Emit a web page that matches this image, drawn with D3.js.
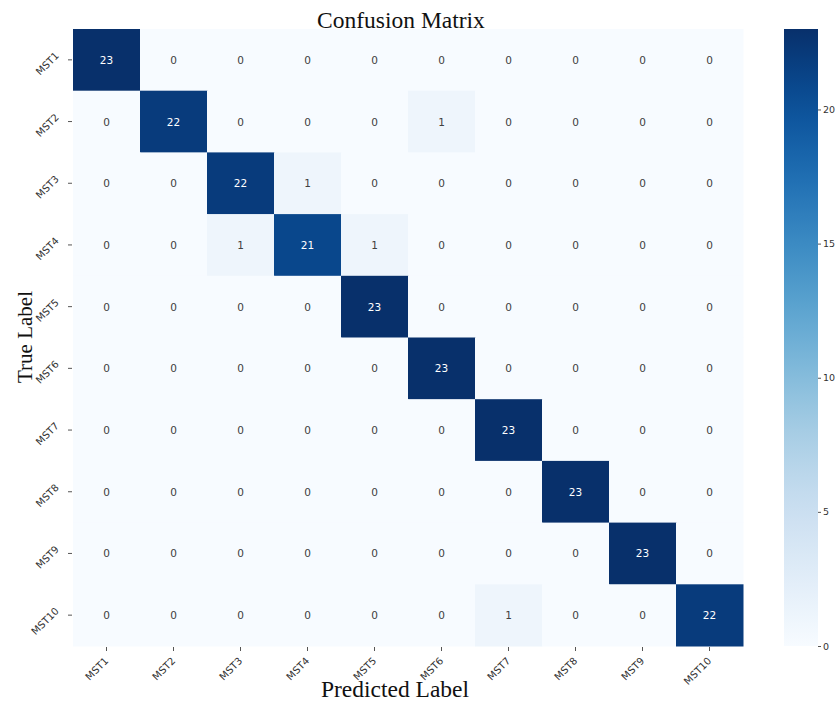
<!DOCTYPE html>
<html><head><meta charset="utf-8">
<script src="https://cdn.jsdelivr.net/npm/d3@7"></script>
<style>body{margin:0;background:#fff}</style>
</head><body>
<svg id="chart" width="837" height="702"></svg>
<script>
const trueLabels = ["MST1","MST2","MST3","MST4","MST5","MST6","MST7","MST8","MST9","MST10"];
const predLabels = ["MST1","MST2","MST3","MST4","MST5","MST6","MST7","MST8","MST9","MST10"];
const row1 = [23,0,0,0,0,0,0,0,0,0];
const row2 = [0,22,0,0,0,1,0,0,0,0];
const row3 = [0,0,22,1,0,0,0,0,0,0];
const row4 = [0,0,1,21,1,0,0,0,0,0];
const row5 = [0,0,0,0,23,0,0,0,0,0];
const row6 = [0,0,0,0,0,23,0,0,0,0];
const row7 = [0,0,0,0,0,0,23,0,0,0];
const row8 = [0,0,0,0,0,0,0,23,0,0];
const row9 = [0,0,0,0,0,0,0,0,23,0];
const row10 = [0,0,0,0,0,0,1,0,0,22];
const colorbarTicks = [0,5,10,15,20];
const vmin = 0, vmax = 23;

const matrix = [row1,row2,row3,row4,row5,row6,row7,row8,row9,row10];
const cells = [];
matrix.forEach((r,i)=>r.forEach((v,j)=>cells.push({t:trueLabels[i],p:predLabels[j],v})));

const svg = d3.select("#chart");
const L = 73, R = 743, T = 29, B = 646;
const x = d3.scaleBand().domain(predLabels).range([L,R]);
const y = d3.scaleBand().domain(trueLabels).range([T,B]);
const color = d3.scaleSequential(d3.interpolateBlues).domain([vmin,vmax]);

svg.append("g").selectAll("rect").data(cells).join("rect")
  .attr("x",d=>x(d.p)).attr("y",d=>y(d.t))
  .attr("width",x.bandwidth()+0.5).attr("height",y.bandwidth()+0.5)
  .attr("fill",d=>color(d.v));

svg.append("g").selectAll("text").data(cells).join("text")
  .attr("x",d=>x(d.p)+x.bandwidth()/2).attr("y",d=>y(d.t)+y.bandwidth()/2)
  .attr("text-anchor","middle").attr("dominant-baseline","central")
  .attr("font-family","DejaVu Sans").attr("font-size",10.5)
  .attr("fill",d=>d.v>11.5?"#ffffff":"#404040")
  .text(d=>d.v);

// x axis
const xAxis = svg.append("g").attr("transform",`translate(0,${B})`)
  .call(d3.axisBottom(x).tickSize(4).tickSizeOuter(0).tickPadding(3));
xAxis.select(".domain").remove();
xAxis.selectAll("line").attr("stroke","#555").attr("transform","translate(0,1)");
xAxis.selectAll("text").attr("font-family","DejaVu Sans").attr("font-size",10).attr("fill","#333")
  .attr("text-anchor","end").attr("x",0).attr("y",0).attr("dy","0.35em")
  .attr("transform","translate(0,13) rotate(-45)");

// y axis
const yAxis = svg.append("g").attr("transform",`translate(${L},0)`)
  .call(d3.axisLeft(y).tickSize(4).tickSizeOuter(0).tickPadding(7));
yAxis.select(".domain").remove();
yAxis.selectAll("line").attr("stroke","#555").attr("transform","translate(-1,0)");
yAxis.selectAll("text").attr("font-family","DejaVu Sans").attr("font-size",10).attr("fill","#333")
  .attr("text-anchor","end").attr("x",0).attr("y",0).attr("dy","0.35em")
  .attr("transform","translate(-16,-6) rotate(-45)");

// titles
svg.append("text").attr("x",401).attr("y",28).attr("text-anchor","middle")
  .attr("font-family","Liberation Serif").attr("font-size",23.5).attr("fill","#111").text("Confusion Matrix");
svg.append("text").attr("x",395).attr("y",697).attr("text-anchor","middle")
  .attr("font-family","Liberation Serif").attr("font-size",23.5).attr("fill","#111").text("Predicted Label");
svg.append("text").attr("transform",`translate(32,337) rotate(-90)`).attr("text-anchor","middle")
  .attr("font-family","Liberation Serif").attr("font-size",21).attr("fill","#111").text("True Label");

// colorbar
const cbX = 784, cbW = 34;
const cy = d3.scaleLinear().domain([vmin,vmax]).range([B,T]);
const defs = svg.append("defs");
const grad = defs.append("linearGradient").attr("id","cbg").attr("x1",0).attr("y1",1).attr("x2",0).attr("y2",0);
d3.range(0,1.0001,0.05).forEach(s=>grad.append("stop").attr("offset",s).attr("stop-color",d3.interpolateBlues(s)));
svg.append("rect").attr("x",cbX).attr("y",T).attr("width",cbW).attr("height",B-T).attr("fill","url(#cbg)");
const cAxis = svg.append("g").attr("transform",`translate(${cbX+cbW},0)`)
  .call(d3.axisRight(cy).tickValues(colorbarTicks).tickSize(3).tickPadding(2));
cAxis.select(".domain").remove();
cAxis.selectAll("line").attr("stroke","#555");
cAxis.selectAll("text").attr("font-family","DejaVu Sans").attr("font-size",9.5).attr("fill","#333");
</script>
</body></html>
